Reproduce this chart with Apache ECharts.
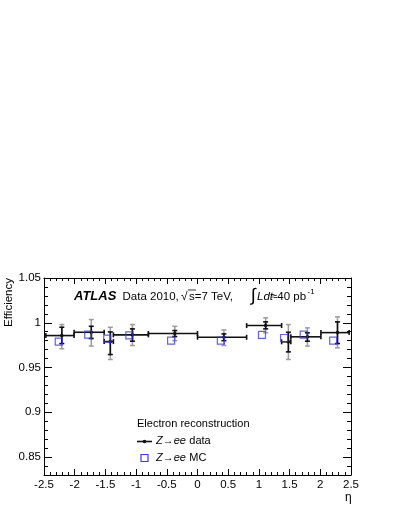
<!DOCTYPE html>
<html><head><meta charset="utf-8">
<script src="https://cdn.jsdelivr.net/npm/echarts@6/dist/echarts.min.js"></script>
<style>html,body{margin:0;padding:0;background:#fff}#c{width:399px;height:516px}</style>
</head><body><div id="c"></div>
<script>
// Bins in eta
const etaLo = [-2.47,-2.01,-1.52,-1.37,-0.8,0,0.8,1.37,1.52,2.01];
const etaHi = [-2.01,-1.52,-1.37,-0.8,0,0.8,1.37,1.52,2.01,2.47];
// Data (Z->ee data)
const dataEta = [-2.21,-1.73,-1.42,-1.06,-0.37,0.43,1.11,1.48,1.79,2.28];
const dataEff = [0.9857,0.9894,0.979,0.9865,0.988,0.9838,0.9969,0.9787,0.9843,0.989];
const statUp   = [0.0093,0.0067,0.0108,0.0067,0.0033,0.0038,0.0041,0.0107,0.0045,0.012];
const statDown = [0.0089,0.007,0.0145,0.0071,0.0034,0.0038,0.0037,0.0112,0.0049,0.0122];
const totUp    = [0.0123,0.0142,0.016,0.0115,0.008,0.0082,0.0086,0.0193,0.010,0.0176];
const totDown  = [0.0147,0.0154,0.020,0.0119,0.008,0.0092,0.0081,0.0197,0.0103,0.017];
// MC (Z->ee MC)
const mcEta = [-2.26,-1.78,-1.47,-1.11,-0.43,0.38,1.05,1.41,1.73,2.21];
const mcEff = [0.979,0.9868,0.9824,0.986,0.980,0.980,0.9865,0.983,0.9868,0.980];
// Axis ticks
const xTicks = [-2.5,-2,-1.5,-1,-0.5,0,0.5,1,1.5,2,2.5];
const yMajor = [0.85,0.9,0.95,1,1.05];
const yMin = 0.83, yMax = 1.05;

const FONT = '"Liberation Sans", Arial, Helvetica, sans-serif';
const chart = echarts.init(document.getElementById('c'), null, {renderer:'canvas'});

const errRows = dataEta.map((x,i)=>[x,dataEff[i],etaLo[i],etaHi[i],dataEff[i]-statDown[i],dataEff[i]+statUp[i],dataEff[i]-totDown[i],dataEff[i]+totUp[i]]);

function renderErr(params, api){
  const x = api.value(0), y = api.value(1);
  const p = api.coord([x,y]);
  const pl = api.coord([api.value(2),y]);
  const ph = api.coord([api.value(3),y]);
  const sl = api.coord([x,api.value(4)]);
  const sh = api.coord([x,api.value(5)]);
  const tl = api.coord([x,api.value(6)]);
  const th = api.coord([x,api.value(7)]);
  const gray = {stroke:'#9c9c9c', lineWidth:1.5};
  const blk = {stroke:'#111', lineWidth:1.6};
  const c = 2.5;
  return {type:'group', children:[
    {type:'line', shape:{x1:p[0],y1:tl[1],x2:p[0],y2:th[1]}, style:gray},
    {type:'line', shape:{x1:p[0]-c,y1:tl[1],x2:p[0]+c,y2:tl[1]}, style:gray},
    {type:'line', shape:{x1:p[0]-c,y1:th[1],x2:p[0]+c,y2:th[1]}, style:gray},
    {type:'line', shape:{x1:pl[0],y1:p[1],x2:ph[0],y2:p[1]}, style:blk},
    {type:'line', shape:{x1:pl[0],y1:p[1]-c,x2:pl[0],y2:p[1]+c}, style:blk},
    {type:'line', shape:{x1:ph[0],y1:p[1]-c,x2:ph[0],y2:p[1]+c}, style:blk},
    {type:'line', shape:{x1:p[0],y1:sl[1],x2:p[0],y2:sh[1]}, style:blk},
    {type:'line', shape:{x1:p[0]-c,y1:sl[1],x2:p[0]+c,y2:sl[1]}, style:blk},
    {type:'line', shape:{x1:p[0]-c,y1:sh[1],x2:p[0]+c,y2:sh[1]}, style:blk},
    {type:'circle', shape:{cx:p[0],cy:p[1],r:1.8}, style:{fill:'#111'}}
  ]};
}

const lineStyle = {color:'#000', width:1};
function xAx(pos, labels){
  return {type:'value', position:pos, min:-2.5, max:2.5, interval:0.5,
    axisLine:{show:true, onZero:false, lineStyle},
    axisTick:{show:true, inside:true, length:6, lineStyle},
    minorTick:{show:true, splitNumber:5, length:3, lineStyle},
    splitLine:{show:false}, minorSplitLine:{show:false},
    axisLabel:{show:labels, color:'#000', fontFamily:FONT, fontSize:11.5, margin:4}};
}
function yMinorAx(pos){
  return {type:'value', position:pos, min:yMin, max:yMax, interval:0.01,
    axisLine:{show:true, onZero:false, lineStyle},
    axisTick:{show:true, inside:true, length:4, lineStyle},
    splitLine:{show:false}, axisLabel:{show:false}};
}
function yMajorAx(pos, labels){
  return {type:'value', position:pos, min:yMin, max:yMax,
    axisLine:{show:false, onZero:false},
    axisTick:{show:true, inside:true, length:8, lineStyle, customValues:yMajor},
    splitLine:{show:false},
    axisLabel:{show:labels, customValues:yMajor, color:'#000', fontFamily:FONT, fontSize:11.5, margin:3}};
}

const option = {
  animation:false,
  backgroundColor:'#fff',
  grid:{left:44, right:48, top:278, bottom:41, containLabel:false},
  xAxis:[xAx('bottom',true), xAx('top',false)],
  yAxis:[yMinorAx('left'), yMajorAx('left',true), yMinorAx('right'), yMajorAx('right',false)],
  series:[
    {type:'custom', xAxisIndex:0, yAxisIndex:0, renderItem:renderErr, data:errRows, z:3},
    {type:'scatter', xAxisIndex:0, yAxisIndex:0, symbol:'rect', symbolSize:7,
      itemStyle:{color:'rgba(0,0,0,0)', borderColor:'#3a3ae6', borderWidth:1.2},
      data:mcEta.map((x,i)=>[x,mcEff[i]]), z:4}
  ],
  graphic:[
    {type:'text', x:3, y:327, rotation:Math.PI/2, style:{text:'Efficiency', font:'11.5px '+FONT, fill:'#000'}, z:10},
    {type:'text', x:345, y:492, style:{text:'η', font:'12px '+FONT, fill:'#000'}},
    {type:'text', x:74, y:290, style:{text:'ATLAS', font:'italic bold 13px '+FONT, fill:'#000'}},
    {type:'text', x:122.5, y:290.5, style:{text:'Data 2010,', font:'11.5px '+FONT, fill:'#000'}},
    {type:'text', x:181, y:290.5, style:{text:'√', font:'12px '+FONT, fill:'#000'}},
    {type:'line', shape:{x1:188,y1:290,x2:196,y2:290}, style:{stroke:'#000', lineWidth:0.8}},
    {type:'text', x:189, y:290.5, style:{text:'s=7 TeV,', font:'11.5px '+FONT, fill:'#000'}},
    {type:'text', x:251, y:287, style:{text:'∫', font:'18px '+FONT, fill:'#000'}},
    {type:'text', x:257, y:290.5, style:{text:'Ldt', font:'italic 11.5px '+FONT, fill:'#000'}},
    {type:'text', x:271, y:290.5, style:{text:'≈40 pb', font:'11.5px '+FONT, fill:'#000'}},
    {type:'text', x:307.5, y:288, style:{text:'-1', font:'8px '+FONT, fill:'#000'}},
    {type:'text', x:137, y:418, style:{text:'Electron reconstruction', font:'11px '+FONT, fill:'#000'}},
    {type:'line', shape:{x1:137,y1:441.5,x2:152,y2:441.5}, style:{stroke:'#111', lineWidth:1.6}},
    {type:'circle', shape:{cx:144.5,cy:441.5,r:1.8}, style:{fill:'#111'}},
    {type:'text', x:156, y:435, style:{text:'{i|Z→ee} {n|data}', rich:{i:{font:'italic 11px '+FONT, fill:'#000'}, n:{font:'11px '+FONT, fill:'#000'}}}},
    {type:'rect', shape:{x:141,y:454.5,width:7,height:7}, style:{fill:'none', stroke:'#3a3ae6', lineWidth:1.2}},
    {type:'text', x:156, y:452, style:{text:'{i|Z→ee} {n|MC}', rich:{i:{font:'italic 11px '+FONT, fill:'#000'}, n:{font:'11px '+FONT, fill:'#000'}}}}
  ]
};
chart.setOption(option);
</script>
</body></html>
